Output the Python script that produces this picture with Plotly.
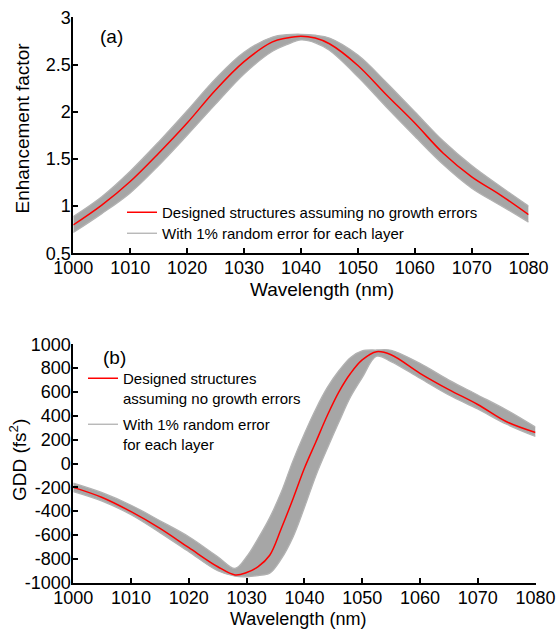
import plotly.graph_objects as go

# ---------------- data ----------------
# (a) enhancement factor
wl_a = [1000, 1005, 1010, 1015, 1020, 1025, 1030, 1035, 1037.5, 1040, 1042.5,
        1045, 1050, 1055, 1060, 1065, 1070, 1075, 1080]
ef_design = [0.80, 1.01, 1.26, 1.56, 1.88, 2.23, 2.53, 2.74, 2.78, 2.80, 2.78,
             2.72, 2.49, 2.18, 1.88, 1.56, 1.31, 1.12, 0.91]
ef_upper = [0.89, 1.10, 1.37, 1.68, 2.01, 2.35, 2.63, 2.79, 2.815, 2.82, 2.81,
            2.78, 2.60, 2.31, 2.00, 1.69, 1.43, 1.21, 1.00]
ef_lower = [0.72, 0.92, 1.14, 1.43, 1.75, 2.08, 2.40, 2.64, 2.71, 2.76, 2.73,
            2.65, 2.37, 2.05, 1.74, 1.44, 1.19, 1.01, 0.83]

# (b) GDD
wl_b = [1000, 1005, 1010, 1015, 1020, 1025, 1028, 1030, 1032, 1034, 1036, 1038,
        1040, 1042, 1044, 1046, 1048, 1050, 1052.5, 1055, 1060, 1065, 1070, 1075, 1080]
gdd_design = [-200, -285, -404, -544, -706, -866, -935, -915, -865, -770, -545, -300,
              -40, 183, 407, 603, 757, 869, 938, 912, 757, 620, 495, 350, 260]
gdd_upper = [-165, -245, -350, -480, -614, -782, -880, -782, -628, -454, -240, 20,
             250, 460, 640, 780, 890, 945, 952, 950, 840, 700, 575, 449, 305]
gdd_lower = [-235, -315, -430, -580, -740, -900, -945, -950, -940, -920, -800, -620,
             -370, -100, 130, 350, 560, 720, 900, 855, 715, 575, 457, 329, 227]

x_ticks = [1000, 1010, 1020, 1030, 1040, 1050, 1060, 1070, 1080]
x_ticktext = [str(v) for v in x_ticks]
ya_ticks = [0.5, 1, 1.5, 2, 2.5, 3]
ya_ticktext = ["0.5", "1", "1.5", "2", "2.5", "3"]
yb_ticks = [-1000, -800, -600, -400, -200, 0, 200, 400, 600, 800, 1000]
yb_ticktext = [str(v) for v in yb_ticks]

name_design_a = "Designed structures assuming no growth errors"
name_err_a = "With 1% random error for each layer"
name_design_b = "Designed structures<br>assuming no growth errors"
name_err_b = "With 1% random error<br>for each layer"

# ---------------- styling ----------------
W, H = 556, 630
FONT = "'Liberation Sans', Arial, sans-serif"
RED = "rgb(255,0,0)"
BAND = "rgb(166,166,166)"
EDGE = "rgb(178,178,178)"


def px(x):
    return x / W


def py(y):
    return 1 - y / H


fig = go.Figure()

# ---- panel (a)
fig.add_trace(go.Scatter(x=wl_a, y=ef_lower, mode="lines", xaxis="x", yaxis="y",
                         line=dict(color=EDGE, width=1.3, shape="spline"),
                         name=name_err_a, legend="legend3"))
fig.add_trace(go.Scatter(x=wl_a, y=ef_upper, mode="lines", xaxis="x", yaxis="y",
                         line=dict(color=EDGE, width=1.3, shape="spline"),
                         fill="tonexty", fillcolor=BAND, showlegend=False))
fig.add_trace(go.Scatter(x=wl_a, y=ef_design, mode="lines", xaxis="x", yaxis="y",
                         line=dict(color=RED, width=1.5, shape="spline"),
                         name=name_design_a, legend="legend"))

# ---- panel (b)
fig.add_trace(go.Scatter(x=wl_b, y=gdd_lower, mode="lines", xaxis="x2", yaxis="y2",
                         line=dict(color=EDGE, width=1.3, shape="spline"),
                         name=name_err_b, legend="legend2", legendrank=2,
                         legendgroup="err"))
fig.add_trace(go.Scatter(x=wl_b, y=gdd_upper, mode="lines", xaxis="x2", yaxis="y2",
                         line=dict(color=EDGE, width=1.3, shape="spline"),
                         fill="tonexty", fillcolor=BAND, showlegend=False,
                         legendgroup="err"))
fig.add_trace(go.Scatter(x=wl_b, y=gdd_design, mode="lines", xaxis="x2", yaxis="y2",
                         line=dict(color=RED, width=1.5, shape="spline"),
                         name=name_design_b, legend="legend2", legendrank=1,
                         legendgroup="design"))

axis_common = dict(showline=True, linecolor="black", linewidth=2, ticks="inside",
                   ticklen=5, tickwidth=1.5, tickcolor="black", showgrid=False,
                   zeroline=False, mirror=False, automargin=False,
                   tickfont=dict(family=FONT, size=18, color="black"))

legend_common = dict(xanchor="left", yanchor="top", bgcolor="rgba(0,0,0,0)",
                     borderwidth=0, itemwidth=30,
                     font=dict(family=FONT, size=15, color="black"))

fig.update_layout(
    template="none",
    width=W, height=H, autosize=False,
    margin=dict(l=0, r=0, t=0, b=0, pad=0),
    paper_bgcolor="white", plot_bgcolor="white",
    font=dict(family=FONT, color="black"),
    xaxis=dict(domain=[px(73.3), px(528.6)], range=[1000, 1080], anchor="y",
               tickvals=x_ticks, ticktext=x_ticktext, ticklabelstandoff=-3,
               **axis_common),
    yaxis=dict(domain=[py(253.3), py(17.3)], range=[0.5, 3], anchor="x",
               tickvals=ya_ticks, ticktext=ya_ticktext, ticklabelstandoff=-3,
               **axis_common),
    xaxis2=dict(domain=[px(73.3), px(535.5)], range=[1000, 1080], anchor="y2",
                tickvals=x_ticks, ticktext=x_ticktext, ticklabelstandoff=-2,
                **axis_common),
    yaxis2=dict(domain=[py(582.7), py(344.3)], range=[-1000, 1000], anchor="x2",
                tickvals=yb_ticks, ticktext=yb_ticktext, ticklabelstandoff=-3,
                **axis_common),
    legend=dict(x=px(122), y=py(196), traceorder="normal", **legend_common),
    legend3=dict(x=px(122), y=py(217), traceorder="normal", **legend_common),
    legend2=dict(x=px(83), y=py(362), valign="top", traceorder="grouped",
                 tracegroupgap=4, **legend_common),
    showlegend=True,
)

annotations = [
    dict(text="(a)", x=px(111.7), y=py(36)),
    dict(text="(b)", x=px(114), y=py(357.7)),
    dict(text="Enhancement factor", x=px(22), y=py(128.5), textangle=-90),
    dict(text="GDD (fs<sup>2</sup>)", x=px(18), y=py(460), textangle=-90),
    dict(text="Wavelength (nm)", x=px(321.7), y=py(290)),
    dict(text="Wavelength (nm)", x=px(298), y=py(619),
         font=dict(family=FONT, size=18, color="black")),
]
for a in annotations:
    a.setdefault("font", dict(family=FONT, size=19, color="black"))
    a.update(xref="paper", yref="paper", showarrow=False,
             xanchor="center", yanchor="middle")
fig.update_layout(annotations=annotations)

fig.write_html("out.html", config={"displayModeBar": False},
               post_script="document.body.style.margin='0px';document.body.style.overflow='hidden';")
